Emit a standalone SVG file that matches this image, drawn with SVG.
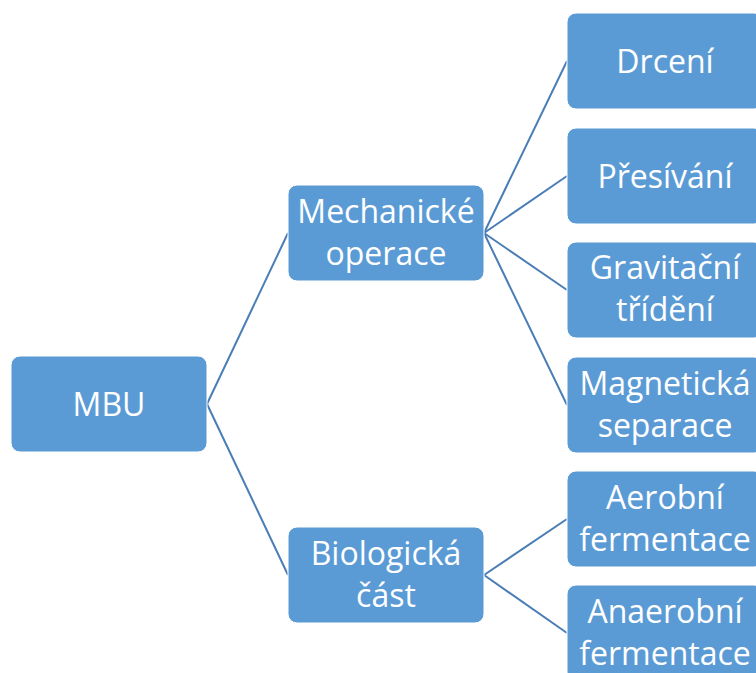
<svg xmlns="http://www.w3.org/2000/svg" width="756" height="673" viewBox="0 0 756 673">
<style>
.box{fill:#5b9bd5;stroke:#ffffff;stroke-width:1}
.t{font-family:"Open Sans","Liberation Sans",sans-serif;font-size:32px;fill:#ffffff;text-anchor:middle}
.c{stroke:#4a7db5;stroke-width:2;fill:none}
</style>
<rect width="756" height="673" fill="#ffffff"/>
<g id="connectors">
<line class="c" x1="207" y1="404" x2="288" y2="233"/>
<line class="c" x1="207" y1="404" x2="288" y2="575"/>
<line class="c" x1="484" y1="233" x2="567" y2="61"/>
<line class="c" x1="484" y1="233" x2="567" y2="176"/>
<line class="c" x1="484" y1="233" x2="567" y2="290"/>
<line class="c" x1="484" y1="233" x2="567" y2="405"/>
<line class="c" x1="484" y1="575" x2="567" y2="519"/>
<line class="c" x1="484" y1="575" x2="567" y2="633"/>
</g>
<g id="mbu"><rect class="box" x="11" y="356" width="196" height="96" rx="9"/><text class="t" x="109" y="416">MBU</text></g>
<g id="mech"><rect class="box" x="288" y="185" width="196" height="96" rx="9"/><text class="t" x="386" y="223">Mechanické</text><text class="t" x="386" y="265">operace</text></g>
<g id="bio"><rect class="box" x="288" y="527" width="196" height="96" rx="9"/><text class="t" x="386" y="565">Biologická</text><text class="t" x="386" y="607">část</text></g>
<g id="drceni"><rect class="box" x="567" y="13" width="196" height="96" rx="9"/><text class="t" x="665" y="73">Drcení</text></g>
<g id="presivani"><rect class="box" x="567" y="128" width="196" height="96" rx="9"/><text class="t" x="665" y="188">Přesívání</text></g>
<g id="gravitacni"><rect class="box" x="567" y="242" width="196" height="96" rx="9"/><text class="t" x="665" y="279">Gravitační</text><text class="t" x="665" y="321">třídění</text></g>
<g id="magneticka"><rect class="box" x="567" y="357" width="196" height="96" rx="9"/><text class="t" x="665" y="395">Magnetická</text><text class="t" x="665" y="437">separace</text></g>
<g id="aerobni"><rect class="box" x="567" y="471" width="196" height="96" rx="9"/><text class="t" x="665" y="509">Aerobní</text><text class="t" x="665" y="551">fermentace</text></g>
<g id="anaerobni"><rect class="box" x="567" y="585" width="196" height="96" rx="9"/><text class="t" x="665" y="623">Anaerobní</text><text class="t" x="665" y="665">fermentace</text></g>
</svg>
